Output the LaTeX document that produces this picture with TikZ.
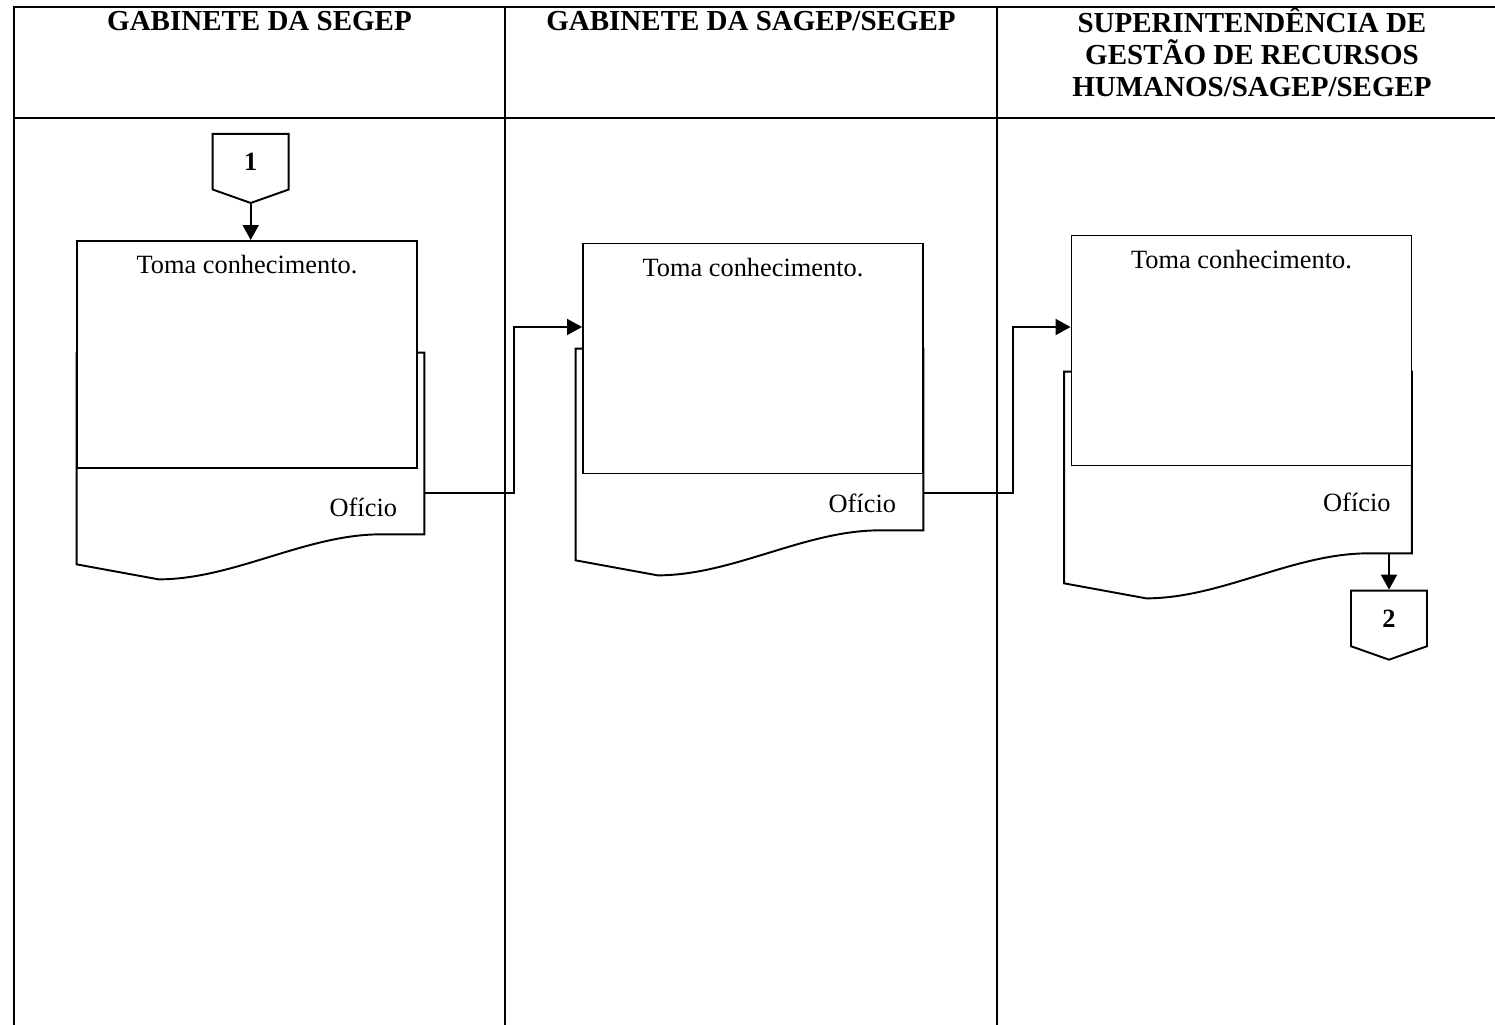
\documentclass[tikz,border=0pt]{standalone}
\usepackage{fontspec}
\setmainfont{Liberation Serif}
\usetikzlibrary{arrows.meta, positioning, shapes.symbols}

\tikzset{
  lane/.style={line width=1.3pt},
  procbox/.style={rectangle, draw, fill=white, line width=1.1pt,
    minimum width=68mm, minimum height=46mm, inner sep=0pt},
  docbox/.style={rectangle, inner sep=0pt, minimum width=69.4mm, minimum height=36.2mm},
  docline/.style={draw, fill=white, line width=1.1pt},
  offpage/.style={signal, signal to=south, signal pointer angle=141, draw, fill=white,
    line width=1.1pt, minimum width=15.2mm, minimum height=11.6mm, inner sep=0pt,
    font=\fontsize{15}{18}\selectfont\bfseries},
  flow/.style={-{Triangle[length=3mm, width=3.2mm]}, line width=1.1pt},
  hdr/.style={font=\fontsize{16.5}{18.4}\selectfont\bfseries, align=center},
  txt/.style={font=\fontsize{15}{18}\selectfont}
}

% outline of a document symbol drawn round a docbox node
\newcommand{\docoutline}[1]{%
  \path[docline] (#1.south east) -- (#1.north east) -- (#1.north west)
    -- ([yshift=-6mm]#1.south west)
    -- ([shift={(16.4mm,-9mm)}]#1.south west)
    .. controls +(15mm,0) and +(-15mm,0) .. ([xshift=60.8mm]#1.south west)
    -- cycle;
}

\begin{document}
\begin{tikzpicture}[x=0.2mm, y=-0.2mm]
  \useasboundingbox (0,0) rectangle (1495,1025);

  % swimlanes
  \draw[lane] (14,1030) -- (14,7) -- (1510,7);
  \draw[lane] (14,118) -- (1510,118);
  \draw[lane] (505,7) -- (505,1030);
  \draw[lane] (997,7) -- (997,1030);
  \node[hdr, anchor=base] (h1) at (259.5,31) {GABINETE DA SEGEP};
  \node[hdr, anchor=base] (h2) at (751,31) {GABINETE DA SAGEP/SEGEP};
  \node[hdr, anchor=base] (h3) at (1252,97) {SUPERINTENDÊNCIA DE\\GESTÃO DE RECURSOS\\HUMANOS/SAGEP/SEGEP};

  % lane 1
  \node[offpage] (c1) at (250.7,161.7) {\raisebox{-0.8mm}{1}};
  \node[docbox] (doc1) at (250.5,443.5) {};
  \docoutline{doc1}
  \node[txt] (of1) at ([shift={(-12.2mm,5.4mm)}]doc1.south east) {Ofício};
  \node[procbox, minimum height=45.4mm] (box1) at (247,354.5) {};
  \node[txt, below=1.8mm of box1.north] (t1) {Toma conhecimento.};

  % lane 2
  \node[docbox] (doc2) at (749.5,439.5) {};
  \docoutline{doc2}
  \node[txt] (of2) at ([shift={(-12.2mm,5.4mm)}]doc2.south east) {Ofício};
  \node[procbox] (box2) at (753,358.5) {};
  \node[txt, below=1.8mm of box2.north] (t2) {Toma conhecimento.};

  % lane 3
  \node[docbox] (doc3) at (1238,462.5) {};
  \docoutline{doc3}
  \node[txt] (of3) at ([shift={(-11mm,10.2mm)}]doc3.south east) {Ofício};
  \node[procbox] (box3) at (1241.5,350.5) {};
  \node[txt, below=1.8mm of box3.north] (t3) {Toma conhecimento.};
  \node[offpage] (c2) at (1389,618.4) {\raisebox{-0.8mm}{2}};

  % flow
  \draw[flow] (c1.south) -- (c1.south |- box1.north);
  \draw[flow] ([yshift=-9.9mm]doc1.east) -- ++(18mm,0) |- ([yshift=6.3mm]box2.west);
  \draw[flow] ([yshift=-10.7mm]doc2.east) -- ++(18mm,0) |- ([yshift=4.7mm]box3.west);
  \draw[flow] (c2.north |- doc3.south) -- (c2.north);
\end{tikzpicture}
\end{document}
